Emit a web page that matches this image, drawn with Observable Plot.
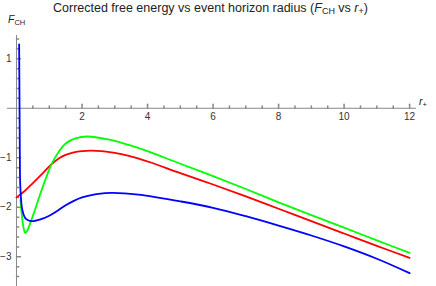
<!DOCTYPE html>
<html><head><meta charset="utf-8">
<script src="https://cdn.jsdelivr.net/npm/d3@7"></script>
<script src="https://cdn.jsdelivr.net/npm/@observablehq/plot@0.6"></script>
<style>
body{margin:0;background:#fff;font-family:"Liberation Sans",Arial,sans-serif;}
#wrap{position:relative;width:436px;height:286px;overflow:hidden;}
#title{position:absolute;left:53px;top:0;height:18px;line-height:17px;font-size:12.5px;color:#222;white-space:nowrap;}
#title sub,.lab sub{font-size:0.72em;vertical-align:-0.25em;line-height:0;}
.lab{position:absolute;font-size:10.5px;color:#222;white-space:nowrap;line-height:12px;}
#ylab{left:8px;top:13px;}
#xlab{left:419px;top:95px;}
#chart{position:absolute;left:0;top:18px;}
</style></head>
<body>
<div id="wrap">
<div id="title">Corrected free energy vs event horizon radius (<i>F</i><sub>CH</sub> vs <i>r</i><sub>+</sub>)</div>
<div class="lab" id="ylab"><i>F</i><sub>CH</sub></div>
<div class="lab" id="xlab"><i>r</i><sub>+</sub></div>
<div id="chart"></div>
</div>
<script>
// Series
const blueR = [0.08, 0.09, 0.10, 0.11, 0.13, 0.18, 0.28, 0.44, 0.75, 1.0, 1.25, 1.5, 1.75, 2.0, 2.25, 2.5, 2.9, 3.3, 3.8, 4.1, 5.0, 6.0, 7.0, 8.0, 9.0, 10.0, 11.0, 12.0];
const blueF = [1.29, 0.3, -0.8, -1.45, -1.75, -2.06, -2.23, -2.28, -2.24, -2.17, -2.07, -1.96, -1.87, -1.80, -1.76, -1.73, -1.71, -1.72, -1.75, -1.78, -1.88, -2.01, -2.18, -2.37, -2.57, -2.79, -3.04, -3.33];
const redR = [0, 0.25, 0.5, 0.79, 1.07, 1.3, 1.5, 1.75, 2.0, 2.26, 2.6, 3.0, 3.4, 3.8, 4.1, 5.0, 6.0, 7.0, 8.0, 9.0, 10.0, 11.0, 12.0];
const redF = [-1.80, -1.67, -1.51, -1.32, -1.13, -1.01, -0.94, -0.89, -0.865, -0.855, -0.865, -0.90, -0.955, -1.03, -1.095, -1.31, -1.54, -1.78, -2.03, -2.28, -2.53, -2.78, -3.02];
const greenR = [0.12, 0.17, 0.22, 0.27, 0.33, 0.43, 0.58, 0.73, 0.9, 1.07, 1.3, 1.5, 1.8, 2.16, 2.8, 3.4, 3.8, 4.1, 5.0, 6.0, 7.0, 8.0, 9.0, 10.0, 11.0, 12.0];
const greenF = [-1.85, -2.2, -2.43, -2.52, -2.47, -2.3, -2.02, -1.72, -1.41, -1.13, -0.87, -0.71, -0.61, -0.57, -0.63, -0.735, -0.82, -0.89, -1.12, -1.37, -1.63, -1.90, -2.16, -2.41, -2.67, -2.92];

// Axis ticks
const xMajor = [2, 4, 6, 8, 10, 12];
const xMajorLabels = ["2", "4", "6", "8", "10", "12"];
const xMinor = [0.5, 1, 1.5, 2.5, 3, 3.5, 4.5, 5, 5.5, 6.5, 7, 7.5, 8.5, 9, 9.5, 10.5, 11, 11.5];
const yMajor = [1, -1, -2, -3];
const yMajorLabels = ["1", "\u22121", "\u22122", "\u22123"];
const yMinor = [1.4, 1.2, 0.8, 0.6, 0.4, 0.2, -0.2, -0.4, -0.6, -0.8, -1.2, -1.4, -1.6, -1.8, -2.2, -2.4, -2.6, -2.8, -3.2, -3.4];

const table = (R, F) => R.map((r, i) => ({r, F: F[i]}));
const tickShape = {draw(ctx, l) { ctx.moveTo(0, 0); ctx.lineTo(0, -l); }};
const axisColor = "#888";

const chart = Plot.plot({
  width: 436,
  height: 268,
  marginLeft: 7,
  marginRight: 20,
  marginTop: 17,
  marginBottom: 0,
  style: {fontFamily: "Liberation Sans, Arial, sans-serif", fontSize: "10px", background: "transparent"},
  x: {domain: [-0.275, 12.21], axis: null},
  y: {domain: [-3.6, 1.47], axis: null},
  marks: [
    Plot.ruleY([0], {stroke: axisColor, strokeWidth: 1}),
    Plot.ruleX([0], {stroke: axisColor, strokeWidth: 1}),
    Plot.vector(xMajor, {x: d => d, y: 0, length: 4, rotate: 0, anchor: "start", shape: tickShape, stroke: axisColor}),
    Plot.vector(xMinor, {x: d => d, y: 0, length: 2.2, rotate: 0, anchor: "start", shape: tickShape, stroke: axisColor}),
    Plot.vector(yMajor, {x: 0, y: d => d, length: 4, rotate: 90, anchor: "start", shape: tickShape, stroke: axisColor}),
    Plot.vector(yMinor, {x: 0, y: d => d, length: 2.2, rotate: 90, anchor: "start", shape: tickShape, stroke: axisColor}),
    Plot.text(xMajor, {x: d => d, y: 0, dy: 9, text: (d, i) => xMajorLabels[i], fill: "#333", fontSize: 10}),
    Plot.text(yMajor, {x: 0, y: d => d, dx: -5, textAnchor: "end", text: (d, i) => yMajorLabels[i], fill: "#333", fontSize: 10}),
    Plot.line(table(redR, redF), {x: "r", y: "F", stroke: "#ff0000", strokeWidth: 1.8, curve: "catmull-rom"}),
    Plot.line(table(greenR, greenF), {x: "r", y: "F", stroke: "#00ff00", strokeWidth: 1.8, curve: "catmull-rom"}),
    Plot.line(table(blueR, blueF), {x: "r", y: "F", stroke: "#0000ff", strokeWidth: 1.8, curve: "catmull-rom"})
  ]
});
document.getElementById("chart").appendChild(chart);
</script>
</body></html>
